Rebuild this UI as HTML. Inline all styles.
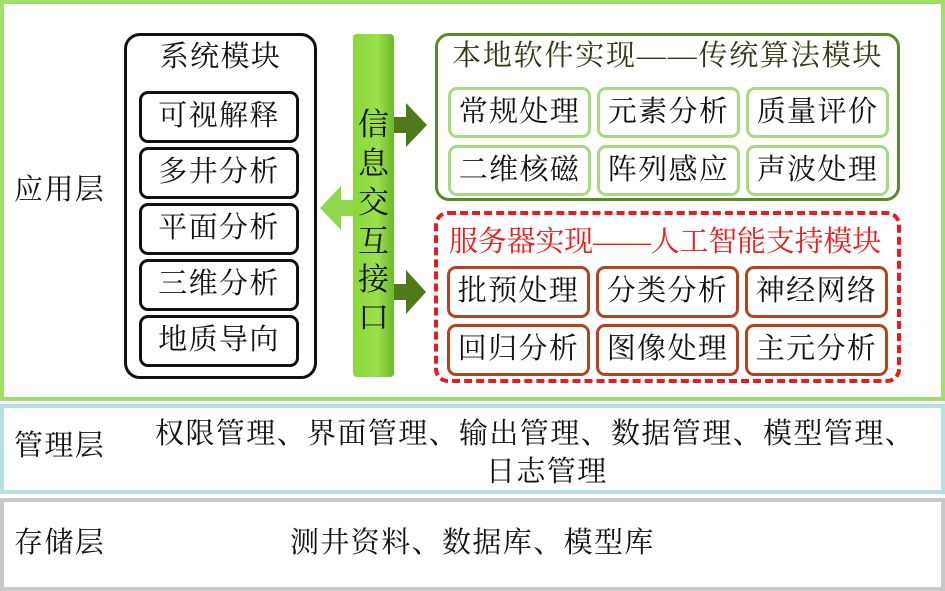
<!DOCTYPE html>
<html><head><meta charset="utf-8"><style>
body{margin:0;width:945px;height:591px;background:#fff;position:relative;overflow:hidden;font-family:"Liberation Serif","Noto Serif CJK SC",serif;color:#111}
div{position:absolute;box-sizing:border-box}
.t{white-space:nowrap;line-height:1;font-size:29px;letter-spacing:1.4px}
.sb{border:3px solid #111;border-radius:9px;left:139px;width:160px;height:52px;font-size:29px;letter-spacing:1.4px;text-align:center;line-height:45px}
.gb{border:3px solid #a5dc7e;border-radius:9px;width:143px;height:51px;font-size:29px;letter-spacing:1.4px;text-align:center;line-height:44px}
.rb{border:3px solid #b3441d;border-radius:9px;width:143px;height:52px;font-size:29px;letter-spacing:1.4px;text-align:center;line-height:45px}
.v{position:absolute;left:353px;width:41px;font-size:31px;text-align:center;line-height:1}
</style></head><body>
<div style="left:0;top:0;width:945px;height:401px;border:4px solid #9fdf6b"></div>
<div style="left:0;top:404px;width:945px;height:90px;border:4px solid #b8dfe3"></div>
<div style="left:0;top:498px;width:945px;height:93px;border:4px solid #c8c8c8"></div>

<div class="t" style="left:14px;top:176px">应用层</div>
<div class="t" style="left:14px;top:432px">管理层</div>
<div class="t" style="left:14px;top:529px">存储层</div>
<div class="t" style="left:155px;top:420px">权限管理、界面管理、输出管理、数据管理、模型管理、</div>
<div class="t" style="left:486px;top:458px">日志管理</div>
<div class="t" style="left:290px;top:529px">测井资料、数据库、模型库</div>

<div style="left:124px;top:33px;width:193px;height:346px;border:3px solid #111;border-radius:16px"></div>
<div class="t" style="left:124px;top:43px;width:193px;text-align:center">系统模块</div>
<div class="sb" style="top:91px">可视解释</div>
<div class="sb" style="top:147px">多井分析</div>
<div class="sb" style="top:203px">平面分析</div>
<div class="sb" style="top:259px">三维分析</div>
<div class="sb" style="top:315px">地质导向</div>

<svg style="position:absolute;left:0;top:0" width="945" height="591">
<defs><linearGradient id="g" x1="0" x2="1"><stop offset="0" stop-color="#8ad83a"/><stop offset="0.6" stop-color="#9be04c"/><stop offset="1" stop-color="#6cb82a"/></linearGradient></defs>
<rect x="353" y="34" width="41" height="343" rx="4" fill="url(#g)"/>
<polygon points="394,117 406,117 406,103 427,125 406,147 406,133 394,133" fill="#4f7a1a"/>
<polygon points="394,284 406,284 406,270 426,292 406,314 406,300 394,300" fill="#4f7a1a"/>
<polygon points="353,200 341,200 341,186 320,208 341,230 341,216 353,216" fill="#8ed84a"/>
</svg>
<div class="v" style="top:109px">信</div>
<div class="v" style="top:148px">息</div>
<div class="v" style="top:187px">交</div>
<div class="v" style="top:226px">互</div>
<div class="v" style="top:264px">接</div>
<div class="v" style="top:302px">口</div>

<div style="left:435px;top:33px;width:465px;height:168px;border:3px solid #5c8a2a;border-radius:14px"></div>
<div class="t" style="left:452px;top:42px;color:#2c3a12;letter-spacing:1.8px">本地软件实现——传统算法模块</div>
<div class="gb" style="left:448px;top:87px">常规处理</div>
<div class="gb" style="left:597px;top:87px">元素分析</div>
<div class="gb" style="left:746px;top:87px">质量评价</div>
<div class="gb" style="left:448px;top:145px">二维核磁</div>
<div class="gb" style="left:597px;top:145px">阵列感应</div>
<div class="gb" style="left:746px;top:145px">声波处理</div>

<div style="left:434px;top:211px;width:467px;height:172px;border:4px dashed #e81c1c;border-radius:14px"></div>
<div class="t" style="left:449px;top:228px;color:#f01a1a;letter-spacing:-0.2px">服务器实现——人工智能支持模块</div>
<div class="rb" style="left:447px;top:266px">批预处理</div>
<div class="rb" style="left:596px;top:266px">分类分析</div>
<div class="rb" style="left:745px;top:266px">神经网络</div>
<div class="rb" style="left:447px;top:324px">回归分析</div>
<div class="rb" style="left:596px;top:324px">图像处理</div>
<div class="rb" style="left:745px;top:324px">主元分析</div>
</body></html>
